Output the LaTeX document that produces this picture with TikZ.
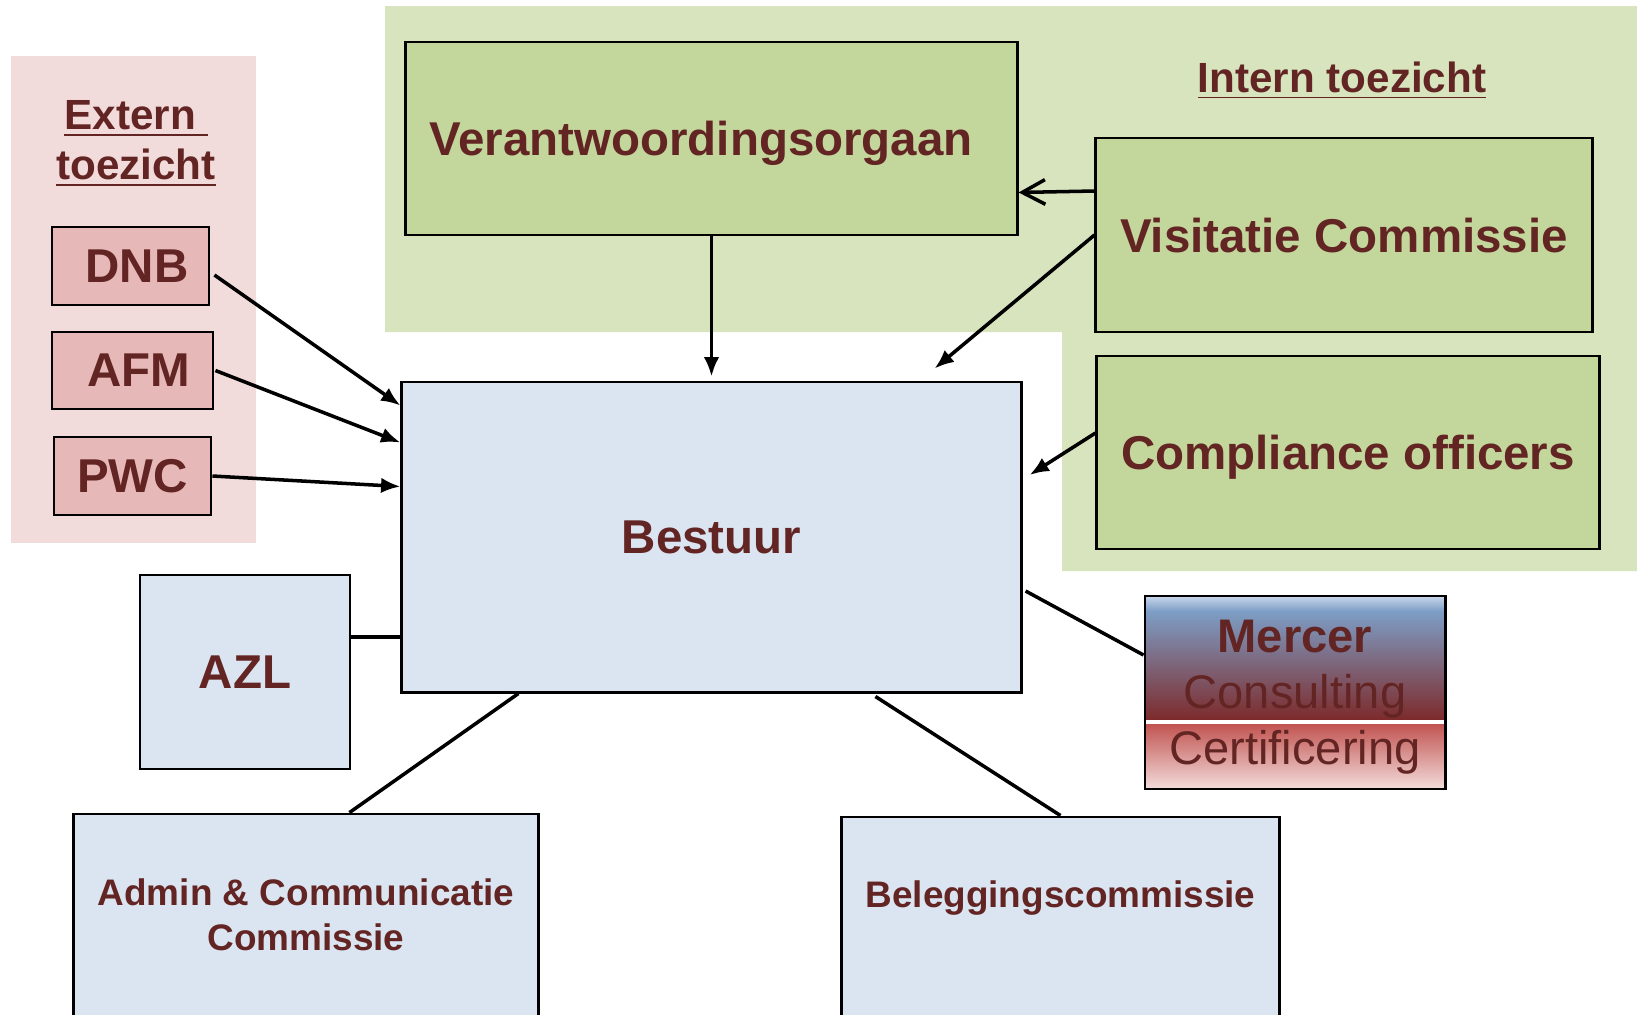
\documentclass[tikz,border=0pt]{standalone}
\usepackage{fontspec}
\setmainfont{Liberation Sans}
\usetikzlibrary{arrows.meta,calc}

\definecolor{tekst}{RGB}{99,37,35}
\definecolor{extbg}{RGB}{242,220,219}
\definecolor{extbox}{RGB}{230,185,184}
\definecolor{intbg}{RGB}{215,228,189}
\definecolor{intbox}{RGB}{195,214,155}
\definecolor{bestbox}{RGB}{219,229,241}
\definecolor{merctop}{RGB}{200,215,235}
\definecolor{mercblauw}{RGB}{125,158,198}
\definecolor{mercmid}{RGB}{145,125,140}
\definecolor{mercrood}{RGB}{125,40,40}
\definecolor{mercrood2}{RGB}{192,80,77}
\definecolor{mercroze}{RGB}{242,220,219}

\tikzset{
  blok/.style={draw=black, line width=0.8pt, text=tekst, inner sep=0pt, text depth=0pt,
    font=\bfseries\fontsize{13.5}{16}\selectfont},
  extblok/.style={blok, fill=extbox},
  intblok/.style={blok, fill=intbox},
  bestblok/.style={blok, fill=bestbox},
  comblok/.style={bestblok, align=center, font=\bfseries\fontsize{10.5}{12.8}\selectfont},
  kop/.style={text=tekst, align=center, font=\bfseries\fontsize{12}{14.2}\selectfont},
  pijl/.style={-{Latex[length=5.5pt,width=4.4pt]}, line width=1pt},
  lijn/.style={line width=1pt}
}

\begin{document}
\begin{tikzpicture}[x=0.01cm,y=-0.01cm]
		\useasboundingbox (0,0) rectangle (1637,1014);
		\fill[white] (0,0) rectangle (1637,1014);
		% achtergronden
		\fill[extbg] (11,56) rectangle (256,543);
		\fill[intbg] (385,6) -- (1637,6) -- (1637,571) -- (1062,571) -- (1062,332) -- (385,332) -- cycle;
		\node[kop] (extern) at (136,144) {\underline{Extern\ }\\\underline{toezicht}};
		\node[kop, anchor=base] (intern) at (1342,92) {\underline{Intern toezicht}};
		% extern toezicht
		\node[extblok, minimum width=1.57cm, minimum height=0.78cm] (dnb) at (130.5,266) {\ DNB};
		\node[extblok, minimum width=1.61cm, minimum height=0.77cm] (afm) at (132.5,370.5) {\ AFM};
		\node[extblok, minimum width=1.57cm, minimum height=0.78cm] (pwc) at (132.5,476) {PWC};
		% intern toezicht
		\node[intblok, minimum width=6.11cm, minimum height=1.93cm] (verant) at (711.5,138.5) {Verantwoordingsorgaan\kern6pt};
		\node[intblok, minimum width=4.96cm, minimum height=1.94cm] (visit) at (1344,235) {Visitatie Commissie};
		\node[intblok, minimum width=5.02cm, minimum height=1.93cm] (compl) at (1348,452.5) {Compliance officers};
		% bestuur en commissies
		\node[bestblok, minimum width=6.19cm, minimum height=3.10cm] (bestuur) at (711.5,537) {Bestuur};
		\node[bestblok, minimum width=2.10cm, minimum height=1.94cm] (azl) at (245,672) {AZL};
		\node[comblok, minimum width=4.64cm, minimum height=2.02cm] (admin) at (306,915) {Admin \& Communicatie\\Commissie};
		\node[comblok, minimum width=4.37cm, minimum height=2.00cm] (beleg) at (1060.5,917) {Beleggingscommissie\\~};
		% mercer
		\shade[top color=merctop, bottom color=mercblauw] (1145,596) rectangle (1445,611);
		\shade[top color=mercblauw, middle color=mercmid, bottom color=mercrood] (1145,611) rectangle (1445,722);
		\shade[top color=mercrood2, bottom color=mercroze] (1145,722) rectangle (1445,789);
		\draw[white, line width=1.2pt] (1145,722) -- (1445,722);
		\node[blok, font=\fontsize{13.4}{15.9}\selectfont, align=center, minimum width=3.00cm, minimum height=1.93cm] (mercer) at (1295,692.5) {\textbf{Mercer}\\Consulting\\Certificering};
		% pijlen
		\draw[pijl] ($(dnb.east)+(4,9)$) -- ($(bestuur.north west)+(0,25)$);
		\draw[pijl] ($(afm.east)+(1,0)$) -- ($(bestuur.north west)+(0,62)$);
		\draw[pijl] (pwc.east) -- ($(bestuur.north west)+(0,106)$);
		\draw[pijl] (verant.south) -- ($(bestuur.north)+(0,-4)$);
		\draw[pijl] (visit.west) -- ($(bestuur.north east)+(-88,-12)$);
		\draw[-{Straight Barb[length=6.5pt,width=7pt]}, line width=1pt] ($(visit.west)+(0,-44)$) -- ($(verant.south east)+(0,-44)$);
		\draw[pijl] ($(compl.west)+(0,-19.5)$) -- ($(bestuur.east)+(7,-62)$);
		% lijnen
		\draw[lijn] ($(bestuur.east)+(3,54)$) -- ($(mercer.west)+(0,-37.5)$);
		\draw[line width=1.3pt] ($(azl.east)+(0,-35)$) -- ($(bestuur.west)+(0,100)$);
		\draw[lijn] ($(bestuur.south west)+(118,0)$) -- ($(admin.north west)+(277,0)$);
		\draw[lijn] ($(bestuur.south west)+(475,3)$) -- ($(beleg.north west)+(220,0)$);
\end{tikzpicture}
\end{document}
